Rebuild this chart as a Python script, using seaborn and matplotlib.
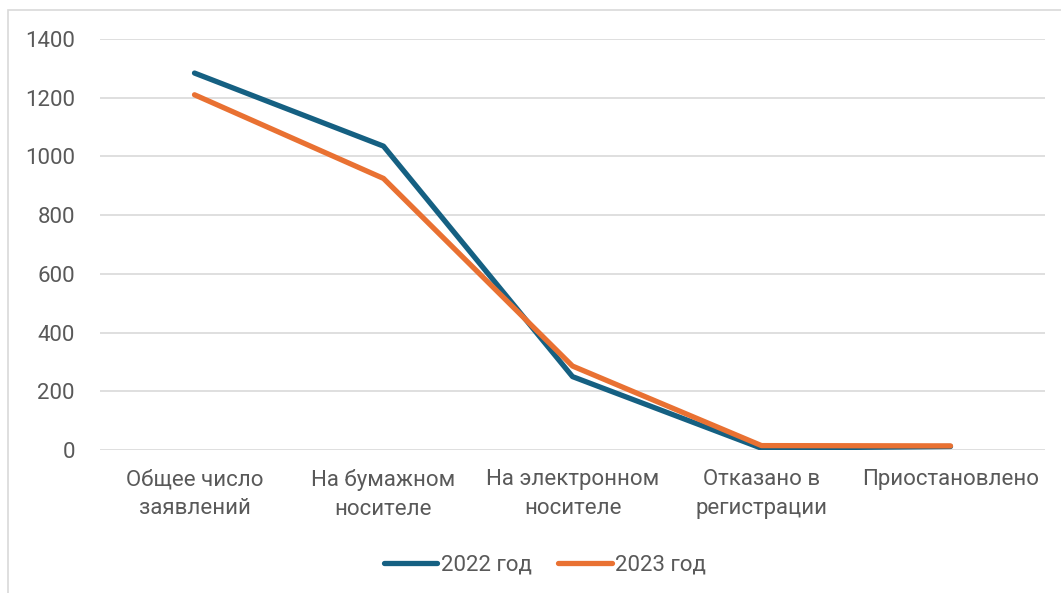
import numpy as np
import pandas as pd
import seaborn as sns
import matplotlib.pyplot as plt
from matplotlib.patches import Rectangle
from matplotlib.lines import Line2D

sns.set_theme(style="white")
plt.rcParams['font.family'] = ['Roboto', 'DejaVu Sans']

categories = ['Общее число\nзаявлений', 'На бумажном\nносителе', 'На электронном\nносителе',
              'Отказано в\nрегистрации', 'Приостановлено']
v2022 = [1284, 1035, 250, 6, 12]
v2023 = [1210, 925, 286, 15, 14]

df = pd.DataFrame({'cat': categories * 2,
                   'val': v2022 + v2023,
                   'year': ['2022 год'] * 5 + ['2023 год'] * 5})
df['x'] = list(range(5)) * 2

txt = '#595959'
fs = 16
fig = plt.figure(figsize=(10.61, 5.93), dpi=100)
ax = fig.add_axes([100 / 1061, 1 - 450 / 593, 945 / 1061, 411 / 593])

sns.lineplot(data=df, x='x', y='val', hue='year', palette=['#156082', '#E97132'],
             linewidth=3.8, ax=ax, legend=False, solid_capstyle='round', solid_joinstyle='round')

ax.set_xlim(-0.5, 4.5)
ax.set_ylim(0, 1400)
ax.set_yticks(range(0, 1401, 200))
ax.set_xticks(range(5))
ax.set_xticklabels(categories, linespacing=1.5)
ax.tick_params(axis='both', colors=txt, labelsize=fs, length=0)
ax.tick_params(axis='x', pad=14)
ax.tick_params(axis='y', pad=18)
ax.yaxis.grid(True, color='#d9d9d9', linewidth=1.2)
ax.set_axisbelow(True)
for s in ax.spines.values():
    s.set_visible(False)
ax.set_xlabel('')
ax.set_ylabel('')

# легенда
handles = [Line2D([0], [0], color='#156082', lw=3.8, solid_capstyle='round'),
           Line2D([0], [0], color='#E97132', lw=3.8, solid_capstyle='round')]
fig.legend(handles, ['2022 год', '2023 год'], loc='center', bbox_to_anchor=(545 / 1061, 1 - 565 / 593),
           ncol=2, frameon=False, fontsize=fs, labelcolor=txt, handlelength=2.4,
           handletextpad=0.15, columnspacing=1.2)

# рамка области диаграммы
fig.patches.append(Rectangle((8 / 1061, -0.1), 1.2, (593 - 10) / 593 + 0.1, transform=fig.transFigure,
                             fill=False, edgecolor='#d9d9d9', linewidth=1.2))

fig.savefig('out.png', dpi=100)
